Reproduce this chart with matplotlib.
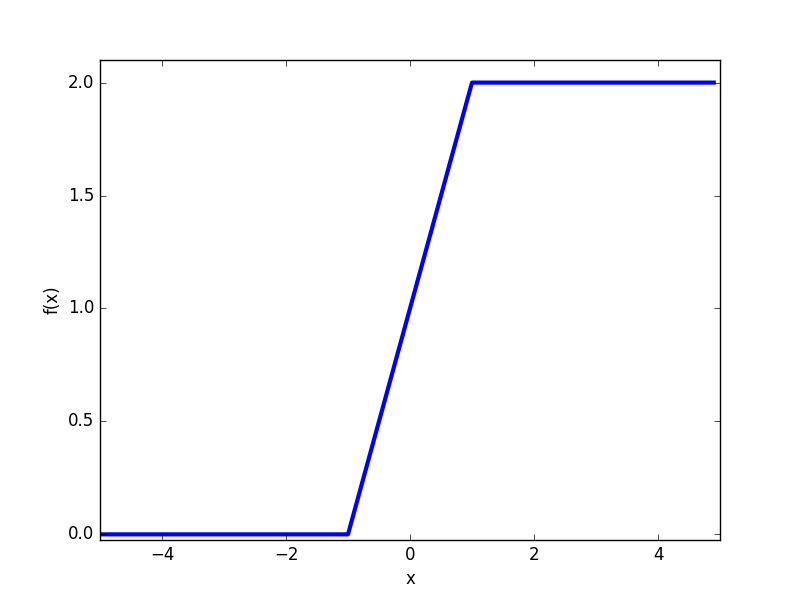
import matplotlib
matplotlib.use('Agg')
import matplotlib.pyplot as plt
import matplotlib as mpl
mpl.style.use('classic')

# breakpoints of the piecewise linear function
x_pts = [-5.0, -1.0, 1.0, 4.9]
y_pts = [0.0, 0.0, 2.0, 2.0]

fig, ax = plt.subplots(figsize=(8, 6), dpi=100)
ax.plot(x_pts, y_pts, color='b', linewidth=3)
ax.set_xlim(-5, 5)
ax.set_ylim(-0.025, 2.1)
ax.set_xlabel('x')
ax.set_ylabel('f(x)')

fig.savefig('out.png', dpi=100)
